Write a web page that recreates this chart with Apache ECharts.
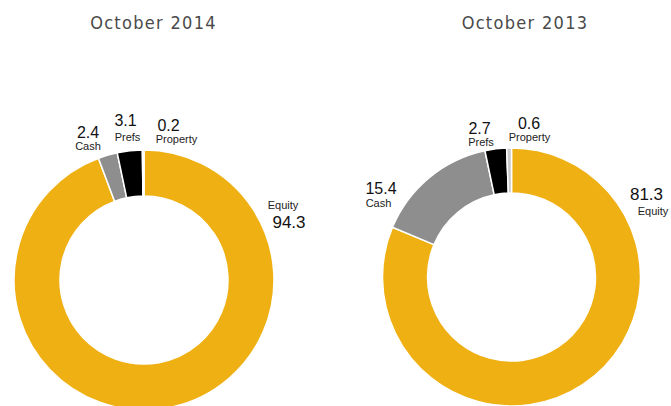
<!DOCTYPE html>
<html>
<head>
<meta charset="utf-8">
<title>Asset allocation</title>
<script src="https://cdn.jsdelivr.net/npm/echarts@6/dist/echarts.min.js"></script>
<style>
  html, body { margin: 0; padding: 0; background: #fff; }
  #chart { width: 671px; height: 406px; }
  /* spaced-out period titles */
  #chart text[style*="Condensed"] { letter-spacing: 1.3px; }
</style>
</head>
<body>
<div id="chart"></div>
<script>
const categories = ['Equity', 'Cash', 'Prefs', 'Property'];
const periods = ['October 2014', 'October 2013'];
const values2014 = [94.3, 2.4, 3.1, 0.2];
const values2013 = [81.3, 15.4, 2.7, 0.6];

const sliceColors = ['#EFB014', '#8D8E8D', '#000000', '#C8C8C8'];

// where each label sits: x/y = centre of the number, dy = offset of the name line, dx = name nudge
const labelSpots2014 = [
  { x: 289, y: 222, dy: -17, dx: -6 },
  { x: 88, y: 132, dy: 13.5, dx: 0 },
  { x: 125.5, y: 120.5, dy: 16.5, dx: 2 },
  { x: 168.5, y: 125.5, dy: 13.5, dx: 8 }
];
const labelSpots2013 = [
  { x: 646.5, y: 194, dy: 17, dx: 6.5 },
  { x: 381, y: 188.5, dy: 14.5, dx: -2.5 },
  { x: 479.5, y: 128.5, dy: 13.5, dx: 1.5 },
  { x: 529, y: 123.5, dy: 13.5, dx: 0.5 }
];

function buildData(values, spots) {
  return categories.map((name, i) => {
    const s = spots[i];
    const gap = Math.abs(s.dy);
    const pad = s.dx >= 0 ? [0, 0, 0, 2 * s.dx] : [0, -2 * s.dx, 0, 0];
    const num = '{v|' + values[i].toFixed(1) + '}';
    const nm = '{n|' + name + '}';
    return {
      name: name,
      value: values[i],
      itemStyle: { color: sliceColors[i] },
      label: {
        formatter: s.dy < 0 ? nm + '\n' + num : num + '\n' + nm,
        rich: {
          v: {
            fontFamily: 'Liberation Sans',
            fontSize: i === 0 ? 17 : 16,
            color: '#111',
            lineHeight: gap,
            align: 'center'
          },
          n: {
            fontFamily: 'Liberation Sans',
            fontSize: 11,
            color: '#222',
            lineHeight: gap,
            padding: pad,
            align: 'center'
          }
        }
      }
    };
  });
}

function donut(values, spots, center, radius) {
  return {
    type: 'pie',
    center: center,
    radius: radius,
    startAngle: 90,
    clockwise: true,
    avoidLabelOverlap: false,
    itemStyle: { borderColor: '#fff', borderWidth: 1.5 },
    label: { show: true, position: 'outside' },
    labelLine: { show: false },
    labelLayout: function (p) {
      const s = spots[p.dataIndex];
      return { x: s.x, y: s.y + s.dy / 2, align: 'center', verticalAlign: 'middle' };
    },
    emphasis: { disabled: true },
    data: buildData(values, spots)
  };
}

const chart = echarts.init(document.getElementById('chart'), null, { renderer: 'svg' });

const titleStyle = {
  fontFamily: 'DejaVu Sans Condensed',
  fontSize: 18,
  fontWeight: 'normal',
  color: '#4a4a4a'
};

chart.setOption({
  animation: false,
  title: [
    { text: periods[0], left: 153.5, top: 13, padding: 0, textAlign: 'center', textStyle: titleStyle },
    { text: periods[1], left: 525, top: 13, padding: 0, textAlign: 'center', textStyle: titleStyle }
  ],
  series: [
    donut(values2014, labelSpots2014, [144, 280], [84, 130]),
    donut(values2013, labelSpots2013, [511.5, 277], [84, 129])
  ]
});
</script>
</body>
</html>
